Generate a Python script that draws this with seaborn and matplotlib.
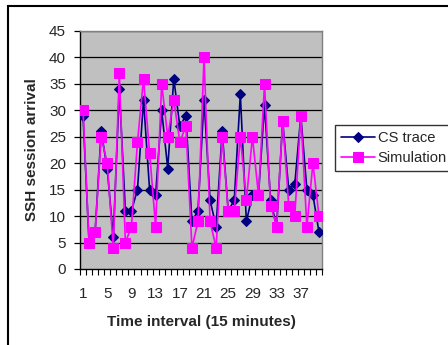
import matplotlib
matplotlib.use("Agg")
import matplotlib.pyplot as plt
import seaborn as sns
import numpy as np
import pandas as pd
from matplotlib.patches import Rectangle

intervals = list(range(1, 41))
cs_trace = [29, 5, 7, 26, 19, 6, 34, 11, 11, 15, 32, 15, 14, 30, 19, 36, 27, 29, 9, 11,
            32, 13, 8, 26, 11, 13, 33, 9, 14, 14, 31, 13, 8, 28, 15, 16, 29, 15, 14, 7]
simulation = [30, 5, 7, 25, 20, 4, 37, 5, 8, 24, 36, 22, 8, 35, 25, 32, 24, 27, 4, 9,
              40, 9, 4, 25, 11, 11, 25, 13, 25, 14, 35, 12, 8, 28, 12, 10, 29, 8, 20, 10]
x_tick_labels = [1, 5, 9, 13, 17, 21, 25, 29, 33, 37]
y_ticks = list(range(0, 50, 5))

sns.set_theme(style="white")
plt.rcParams['font.family'] = ['Liberation Sans', 'DejaVu Sans']

W, H = 448, 345
fig = plt.figure(figsize=(W / 100, H / 100), dpi=100)
fig.patch.set_facecolor("white")
ax = fig.add_axes([80 / W, 1 - 269 / H, 242 / W, 238 / H])
ax.set_facecolor("#C0C0C0")

df = pd.DataFrame({"x": intervals, "cs": cs_trace, "sim": simulation})
sns.lineplot(data=df, x="x", y="cs", ax=ax, color="#000080", marker="D", markersize=5,
             markeredgecolor="#000080", linewidth=1.2, label="CS trace", zorder=3)
sns.lineplot(data=df, x="x", y="sim", ax=ax, color="#FF00FF", marker="s", markersize=7,
             markeredgecolor="#FF00FF", linewidth=1.2, label="Simulation", zorder=4)

ax.set_xlim(0.5, 40.5)
ax.set_ylim(0, 45)
ax.set_yticks(y_ticks)
ax.set_xticks(x_tick_labels)
ax.set_xticklabels([str(v) for v in x_tick_labels])
ax.set_xticks(np.arange(0.5, 41, 1), minor=True)
for y in y_ticks[1:]:
    ax.axhline(y, color="black", linewidth=0.9, zorder=1)
ax.tick_params(axis="y", which="major", direction="out", length=4, width=0.9,
               color="black", labelsize=11, pad=6, left=True)
ax.tick_params(axis="x", which="major", length=0, labelsize=11, pad=13)
ax.tick_params(axis="x", which="minor", direction="out", length=4, width=0.8,
               color="black", bottom=True)
for side in ["top", "right"]:
    ax.spines[side].set_color("#808080")
    ax.spines[side].set_linewidth(1)
for side in ["left", "bottom"]:
    ax.spines[side].set_color("black")
    ax.spines[side].set_linewidth(1)
    ax.spines[side].set_visible(True)
ax.spines["top"].set_visible(True)
ax.spines["right"].set_visible(True)

ax.set_xlabel("Time interval (15 minutes)", fontsize=11, fontweight="bold", labelpad=10)
ax.set_ylabel("SSH session arrival", fontsize=11, fontweight="bold", labelpad=7)

leg = ax.legend(loc="upper left", bbox_to_anchor=(335 / W, 1 - 125 / H),
                bbox_transform=fig.transFigure, frameon=True, fancybox=False,
                edgecolor="black", fontsize=10.6, handlelength=2.3, borderpad=0.4,
                labelspacing=0.4, handletextpad=0.2, borderaxespad=0)
leg.get_frame().set_linewidth(1)

fig.patches.append(Rectangle((8 / W, -0.1), 1.2, (1 - 6 / H) + 0.1, transform=fig.transFigure,
                             fill=False, edgecolor="black", linewidth=1.5, zorder=10))

fig.savefig("out.png", dpi=100)
